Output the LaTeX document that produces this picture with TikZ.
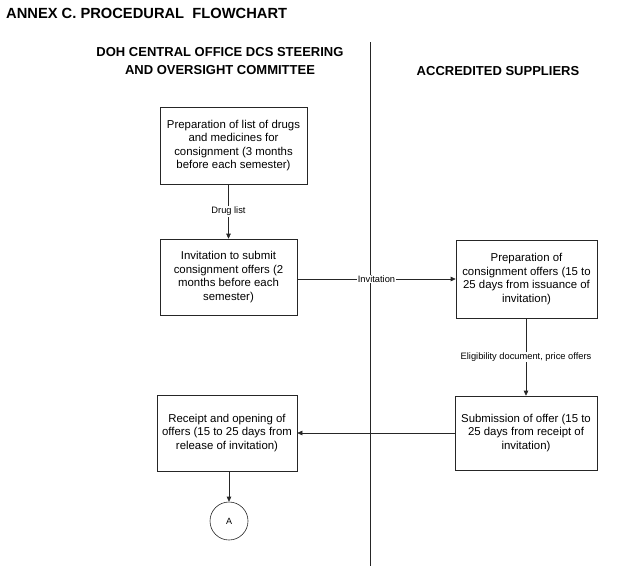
\documentclass[tikz,border=0pt]{standalone}
\usepackage{fontspec}
\setmainfont{Liberation Sans}
\usetikzlibrary{arrows.meta}
\begin{document}
\begin{tikzpicture}[x=1pt,y=-1pt,
  box/.style={draw=black!85, line width=0.6pt, align=center, inner sep=0pt,
    font=\fontsize{11.4}{13.4}\selectfont},
  conn/.style={draw=black!85, line width=0.6pt, -{Triangle[length=5pt,width=4.5pt]}},
  lbl/.style={fill=white, inner sep=1pt, font=\fontsize{9.3}{11}\selectfont},
  hdr/.style={font=\bfseries\fontsize{13}{18}\selectfont, align=center}
]
\useasboundingbox (0,0) rectangle (628,566);
\node[anchor=west, inner sep=0pt, font=\bfseries\fontsize{14.7}{18}\selectfont] (title) at (6,13) {ANNEX C. PROCEDURAL\ \ FLOWCHART};
\node[hdr] (hl) at (220,61) {DOH CENTRAL OFFICE DCS STEERING\\AND OVERSIGHT COMMITTEE};
\node[hdr] (hr) at (498,71) {ACCREDITED SUPPLIERS};
\coordinate (dtop) at (370,42);
\coordinate (dbot) at (370,566);
\draw[black!85, line width=0.7pt] (dtop) -- (dbot);

\node[box, minimum width=147, minimum height=77] (b1) at (233.5,145.5)
  {Preparation of list of drugs\\and medicines for\\consignment (3 months\\before each semester)};
\node[box, minimum width=137, minimum height=76] (b2) at (228.5,277)
  {Invitation to submit\\consignment offers (2\\months before each\\semester)};
\node[box, minimum width=141, minimum height=78] (b3) at (526.5,279)
  {Preparation of\\consignment offers (15 to\\25 days from issuance of\\invitation)};
\node[box, minimum width=142, minimum height=74] (b4) at (526,433)
  {Submission of offer (15 to\\25 days from receipt of\\invitation)};
\node[box, minimum width=140, minimum height=76] (b5) at (227,433)
  {Receipt and opening of\\offers (15 to 25 days from\\release of invitation)};
\node[circle, draw=black!85, line width=0.6pt, minimum size=38, inner sep=0pt,
  font=\fontsize{9}{11}\selectfont] (A) at (229,521) {A};

\draw[conn] (b1.south -| b2.north) -- node[lbl]{Drug list} (b2.north);
\draw[conn] (b2.east |- b3.west) -- node[lbl]{Invitation} (b3.west);
\draw[conn] (b3.south -| b4.north) -- node[lbl]{Eligibility document, price offers} (b4.north);
\draw[conn] (b4.west) -- (b5.east);
\draw[conn] (b5.south -| A.north) -- (A.north);
\end{tikzpicture}
\end{document}
